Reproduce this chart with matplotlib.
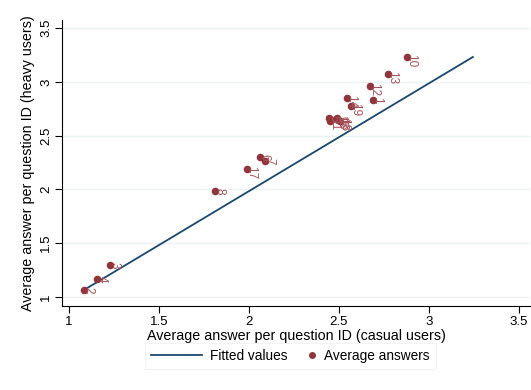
import matplotlib.pyplot as plt
from matplotlib.lines import Line2D
from matplotlib.legend_handler import HandlerBase

plt.rcParams['font.family'] = ['Liberation Sans', 'DejaVu Sans']

# question id, average answer of casual users (x) and heavy users (y)
qid = ["1", "2", "3", "4", "5", "6", "7", "8", "9", "10",
       "11", "12", "13", "14", "15", "16", "17", "18", "19"]
casual = [2.689, 1.083, 1.228, 1.156, 2.444, 2.061, 2.089, 1.811, 2.483, 2.878,
          2.450, 2.672, 2.772, 2.544, 2.489, 2.494, 1.989, 2.506, 2.567]
heavy = [2.833, 1.065, 1.298, 1.167, 2.665, 2.302, 2.265, 1.986, 2.656, 3.233,
         2.637, 2.963, 3.074, 2.851, 2.665, 2.647, 2.190, 2.637, 2.777]

# fitted line end points
fit_x = [1.083, 3.244]
fit_y = [1.065, 3.233]

navy = "#1a476f"
maroon = "#90353b"
gridc = "#eaf2f3"


class DotAtEnd(HandlerBase):
    # legend dot sits right before its label, not mid-handle
    def create_artists(self, legend, orig_handle, xdescent, ydescent,
                       width, height, fontsize, trans):
        x = width - xdescent - 3
        y = height / 2 - ydescent
        m = Line2D([x], [y], marker="o", ls="", color=orig_handle.get_color(),
                   markersize=orig_handle.get_markersize(), transform=trans)
        return [m]


fig = plt.figure(figsize=(5.31, 3.9), dpi=100)
ax = fig.add_axes([0.1168, 0.2154, 0.8812, 0.7333])

ax.plot(fit_x, fit_y, color=navy, lw=1.3, zorder=2)
ax.scatter(casual, heavy, s=30, color=maroon, zorder=3, linewidths=0)
for q, x, y in zip(qid, casual, heavy):
    ax.annotate(q, (x, y), xytext=(3, 2), textcoords="offset points",
                rotation=270, rotation_mode="anchor", ha="left", va="center",
                fontsize=8.5, color="#a8525a", zorder=4)

ax.set_xlim(0.961, 3.561)
ax.set_ylim(0.916, 3.577)
ticks = [1, 1.5, 2, 2.5, 3, 3.5]
ax.set_xticks(ticks)
ax.set_yticks(ticks)
ax.set_xticklabels(["1", "1.5", "2", "2.5", "3", "3.5"])
ax.set_yticklabels(["1", "1.5", "2", "2.5", "3", "3.5"], rotation=90, va="center")
ax.tick_params(direction="out", length=5, width=0.8, labelsize=9.5, pad=2, colors="black")
ax.yaxis.grid(True, color=gridc, lw=1)
ax.set_axisbelow(True)
for s in ["top", "right"]:
    ax.spines[s].set_visible(False)
for s in ["left", "bottom"]:
    ax.spines[s].set_linewidth(0.8)

ax.set_xlabel("Average answer per question ID (casual users)", fontsize=10.3, labelpad=1)
ax.set_ylabel("Average answer per question ID (heavy users)", fontsize=10.3, labelpad=4)

line_h = Line2D([], [], color=navy, lw=1.3)
dot_h = Line2D([], [], color=maroon, marker="o", ls="", markersize=4)
leg = fig.legend([line_h, dot_h], ["Fitted values", "Average answers"], loc="center",
                 bbox_to_anchor=(0.547, 0.088), ncol=2, fontsize=9.8, frameon=True,
                 fancybox=False, edgecolor=gridc, handlelength=3.7, columnspacing=-1.6,
                 handletextpad=0.6, borderpad=0.45, handler_map={dot_h: DotAtEnd()})
leg.get_frame().set_linewidth(0.8)

fig.savefig("out.png", dpi=100)
